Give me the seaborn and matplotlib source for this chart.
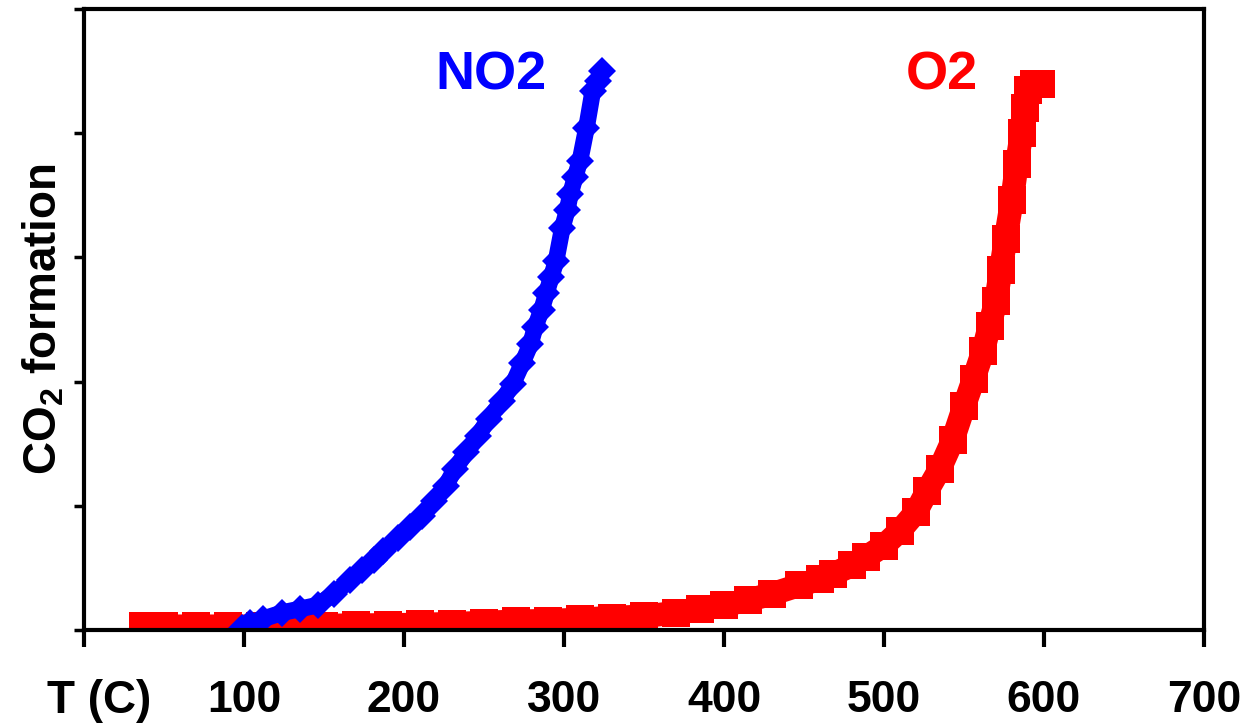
import matplotlib
matplotlib.use("Agg")
import matplotlib.pyplot as plt
import seaborn as sns
import pandas as pd

# ---- data ----
o2_T = [37, 50, 70, 90, 110, 130, 150, 170, 190, 210, 230, 250, 270, 290, 310,
        330, 350, 370, 385, 400, 415, 430, 447, 460, 468, 480, 489, 500, 510,
        520, 527, 535, 543, 550, 556, 562, 566, 570, 573, 576, 580, 583, 586,
        588, 590, 594, 598]
o2_v = [0.03, 0.03, 0.03, 0.03, 0.03, 0.035, 0.035, 0.04, 0.04, 0.045, 0.05,
        0.06, 0.07, 0.075, 0.085, 0.10, 0.11, 0.14, 0.17, 0.20, 0.24, 0.29,
        0.36, 0.41, 0.45, 0.52, 0.59, 0.68, 0.80, 0.95, 1.12, 1.30, 1.53, 1.80,
        2.02, 2.25, 2.45, 2.65, 2.90, 3.15, 3.46, 3.75, 4.00, 4.20, 4.35, 4.40,
        4.40]

no2_T = [99, 104, 112, 124, 135, 146, 156, 166, 174, 181, 187, 196, 204, 211,
         219, 226, 232, 239, 246, 253, 261, 268, 274, 279, 282, 286, 289, 292,
         295, 299, 302, 304, 307, 310, 314, 318, 321, 324]
no2_v = [0.02, 0.06, 0.09, 0.14, 0.17, 0.20, 0.29, 0.40, 0.48, 0.56, 0.64, 0.74,
         0.83, 0.92, 1.04, 1.16, 1.30, 1.43, 1.56, 1.70, 1.84, 1.98, 2.15, 2.30,
         2.44, 2.58, 2.71, 2.84, 2.97, 3.24, 3.38, 3.51, 3.65, 3.78, 4.04, 4.34,
         4.42, 4.50]

x_ticks = [0, 100, 200, 300, 400, 500, 600, 700]
x_tick_labels = ["", "100", "200", "300", "400", "500", "600", "700"]
y_ticks = [0, 1, 2, 3, 4, 5]

df_o2 = pd.DataFrame({"T": o2_T, "v": o2_v})
df_no2 = pd.DataFrame({"T": no2_T, "v": no2_v})

sns.set_style("white")
plt.rcParams["font.family"] = ["Liberation Sans", "DejaVu Sans"]
plt.rcParams["text.color"] = "black"
plt.rcParams["axes.labelcolor"] = "black"

fig = plt.figure(figsize=(12.48, 7.27), dpi=100)
ax = fig.add_axes([84 / 1248, 97 / 727, 1120 / 1248, 621 / 727])

sns.lineplot(data=df_o2, x="T", y="v", ax=ax, color="#ff0000", linewidth=17,
             marker="s", markersize=20, markeredgewidth=0,
             solid_capstyle="butt")
sns.lineplot(data=df_no2, x="T", y="v", ax=ax, color="#0000ff", linewidth=12,
             marker="D", markersize=14, markeredgewidth=0,
             solid_capstyle="round")

ax.set_xlim(0, 700)
ax.set_ylim(0, 5)
ax.set_xticks(x_ticks)
ax.set_xticklabels(x_tick_labels, fontsize=32, fontweight="bold")
ax.set_yticks(y_ticks)
ax.set_yticklabels([])
ax.tick_params(axis="x", direction="out", length=12, width=3, pad=24,
               bottom=True, colors="black")
ax.tick_params(axis="y", direction="out", length=7, width=2.5, left=True,
               colors="black")
for s in ax.spines.values():
    s.set_visible(True)
    s.set_linewidth(3)
    s.set_color("black")

ax.set_xlabel("")
ax.set_ylabel(r"CO$_\mathregular{2}$ formation", fontsize=33, fontweight="bold",
              labelpad=2, color="black")
fig.text(99 / 1248, 1 - 701 / 727, "T (C)", fontsize=33, fontweight="bold",
         ha="center", va="center", color="black")

ax.text((491 - 84) / 1.6, (630 - 75) / 124.2, "NO2", color="#0000ff",
        fontsize=39, fontweight="bold", ha="center", va="center")
ax.text((942 - 84) / 1.6, (630 - 75) / 124.2, "O2", color="#ff0000",
        fontsize=39, fontweight="bold", ha="center", va="center")

fig.savefig("out.png", dpi=100)
